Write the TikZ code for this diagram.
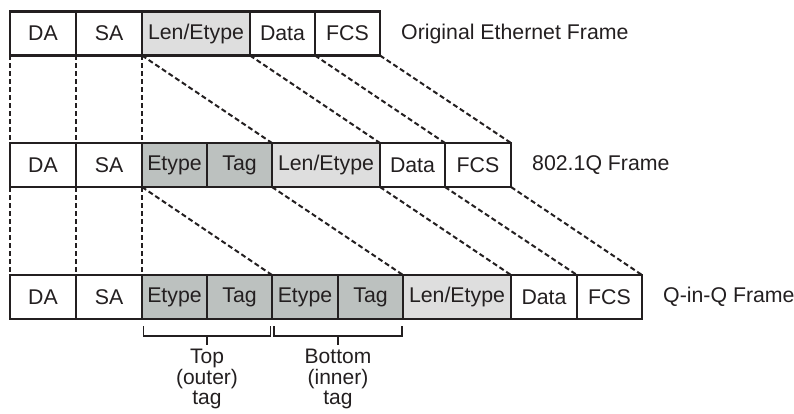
\documentclass[tikz,border=0pt]{standalone}
\usepackage{fontspec}
\setmainfont{Liberation Sans}
\definecolor{ink}{RGB}{35,31,32}
\definecolor{tagfill}{RGB}{188,193,191}
\definecolor{lenfill}{RGB}{222,222,222}
\tikzset{
  field/.style={draw=ink, line width=2.5pt, outer sep=0pt, inner sep=0pt,
    minimum height=44pt, font=\fontsize{21.3}{24}\selectfont, text=ink, fill=white},
  tagf/.style={field, fill=tagfill},
  lenf/.style={field, fill=lenfill},
  link/.style={draw=ink, line width=2pt, dash pattern=on 5pt off 3pt},
  brk/.style={draw=ink, line width=1.1pt},
  flabel/.style={anchor=west, inner sep=0pt, font=\fontsize{21.3}{24}\selectfont, text=ink},
  blabel/.style={anchor=north, inner sep=0pt, align=center, font=\fontsize{21}{20.5}\selectfont, text=ink}
}
\begin{document}
\begin{tikzpicture}[x=1pt,y=-1pt]
\useasboundingbox (0,0) rectangle (794,414);
% Row 1
\node[field, minimum width=66pt] (a1) at (43,33.5) {DA};
\node[field, minimum width=66pt] (b1) at (109,33.5) {SA};
\node[lenf, minimum width=108pt] (l1) at (196,33.5) {Len/Etype};
\node[field, minimum width=65pt] (d1) at (282.5,33.5) {Data};
\node[field, minimum width=65pt] (f1) at (347.5,33.5) {FCS};
\node[flabel] (t1) at ([xshift=21pt]f1.east) {Original Ethernet Frame};
% Row 2
\node[field, minimum width=66pt] (a2) at (43,165) {DA};
\node[field, minimum width=66pt] (b2) at (109,165) {SA};
\node[tagf, minimum width=65pt] (e2) at (174.5,165) {Etype};
\node[tagf, minimum width=65pt] (g2) at (239.5,165) {Tag};
\node[lenf, minimum width=108pt] (l2) at (326,165) {Len/Etype};
\node[field, minimum width=65pt] (d2) at (412.5,165) {Data};
\node[field, minimum width=66pt] (f2) at (478,165) {FCS};
\node[flabel] (t2) at ([xshift=21pt]f2.east) {802.1Q Frame};
% Row 3
\node[field, minimum width=66pt] (a3) at (43,297) {DA};
\node[field, minimum width=66pt] (b3) at (109,297) {SA};
\node[tagf, minimum width=65pt] (e3) at (174.5,297) {Etype};
\node[tagf, minimum width=65pt] (g3) at (239.5,297) {Tag};
\node[tagf, minimum width=66pt] (e4) at (305,297) {Etype};
\node[tagf, minimum width=65pt] (g4) at (370.5,297) {Tag};
\node[lenf, minimum width=108pt] (l3) at (457,297) {Len/Etype};
\node[field, minimum width=66pt] (d3) at (544,297) {Data};
\node[field, minimum width=65pt] (f3) at (609.5,297) {FCS};
\node[flabel] (t3) at ([xshift=21pt]f3.east) {Q-in-Q Frame};
% Links row 1 -> row 2
\draw[link] (a1.south west) -- (a2.north west);
\draw[link] (b1.south west) -- (b2.north west);
\draw[link] (l1.south west) -- (e2.north west);
\draw[link] (l1.south west) -- (l2.north west);
\draw[link] (l1.south east) -- (l2.north east);
\draw[link] (d1.south east) -- (d2.north east);
\draw[link] (f1.south east) -- (f2.north east);
% Links row 2 -> row 3
\draw[link] (a2.south west) -- (a3.north west);
\draw[link] (b2.south west) -- (b3.north west);
\draw[link] (e2.south west) -- (e3.north west);
\draw[link] (e2.south west) -- (e4.north west);
\draw[link] (l2.south west) -- (l3.north west);
\draw[link] (l2.south east) -- (l3.north east);
\draw[link] (d2.south east) -- (d3.north east);
\draw[link] (f2.south east) -- (f3.north east);
% Brackets
\coordinate (k1a) at (143.5,326);
\coordinate (k1b) at (270.5,326);
\coordinate (k1m) at (207,345);
\coordinate (k2a) at (274,326);
\coordinate (k2b) at (402,326);
\coordinate (k2m) at (338,345);
\draw[brk] (k1a) |- (207,336) -| (k1b);
\draw[brk] (207,336) -- (k1m);
\draw[brk] (k2a) |- (338,336) -| (k2b);
\draw[brk] (338,336) -- (k2m);
\node[blabel] (top) at (207,349) {Top\\(outer)\\tag};
\node[blabel] (bot) at (338,349) {Bottom\\(inner)\\tag};
\end{tikzpicture}
\end{document}
